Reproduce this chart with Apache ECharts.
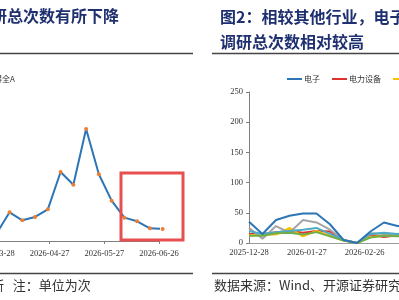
<!DOCTYPE html>
<html>
<head>
<meta charset="utf-8">
<script src="https://cdn.jsdelivr.net/npm/echarts@6/dist/echarts.min.js"></script>
<style>
  html, body { margin: 0; padding: 0; background: #fff; }
  #main { width: 399px; height: 300px; }
</style>
</head>
<body>
<div id="main"></div>
<script>
// left chart: weekly totals (万得全A)
const leftDates = ['2026-03-29', '2026-04-05', '2026-04-12', '2026-04-19', '2026-04-26', '2026-05-03', '2026-05-10',
                   '2026-05-17', '2026-05-24', '2026-05-31', '2026-06-07', '2026-06-14', '2026-06-21', '2026-06-28'];
const leftValues = [80, 289, 208, 242, 319, 695, 567, 1128, 672, 406, 235, 198, 128, 121];
const leftTicks = ['2026-03-28', '2026-06-26'];

// right chart: weekly counts by industry
const rightDates = ['2025-12-28', '2026-01-04', '2026-01-11', '2026-01-18', '2026-01-25', '2026-02-01', '2026-02-08',
                    '2026-02-15', '2026-02-22', '2026-03-01', '2026-03-08', '2026-03-15', '2026-03-22'];
const rightTicks = ['2025-12-28', '2026-06-26'];
const industries = ['电子', '电力设备', '机械设备', '医药生物', '计算机', '基础化工'];
const dianzi    = [35, 15, 38, 45, 49, 49, 31, 5, 0, 19, 34, 28, 30];
const dianli    = [15, 15, 18, 20, 17, 20, 19, 5, 0, 14, 10, 13, 14];
const jixie     = [13, 14, 14, 25, 11, 20, 12, 4, 0, 10, 12, 12, 12];
const yiyao     = [25, 7, 28, 17, 38, 34, 22, 5, 0, 16, 15, 14, 15];
const jisuanji  = [20, 15, 18, 20, 22, 25, 15, 5, 0, 15, 17, 15, 16];
const huagong   = [12, 12, 16, 17, 14, 18, 11, 4, 0, 9, 12, 11, 11];
const rightValues = [dianzi, dianli, jixie, yiyao, jisuanji, huagong];
const rightColors = ['#2e75b6', '#e0312f', '#ffc000', '#a5a5a5', '#4bacc6', '#70ad47'];

const DAY = 86400000;
function ts(s) {
    const p = s.split('-');
    return Date.UTC(+p[0], +p[1] - 1, +p[2]);
}
function pad(n) { return n < 10 ? '0' + n : '' + n; }
function fmt(v) {
    const d = new Date(v);
    return d.getUTCFullYear() + '-' + pad(d.getUTCMonth() + 1) + '-' + pad(d.getUTCDate());
}

const navy = '#1f3070';
const serif = 'Liberation Serif';
const cjk = 'Noto Sans CJK SC';

const rightSeries = industries.map(function (name, i) {
    return {
        name: name,
        type: 'line',
        xAxisIndex: 1,
        yAxisIndex: 1,
        symbol: 'none',
        z: i === 0 ? 5 : 2,
        lineStyle: { width: 2, color: rightColors[i] },
        itemStyle: { color: rightColors[i] },
        data: rightDates.map(function (d, k) { return [ts(d), rightValues[i][k]]; })
    };
});

const option = {
    animation: false,
    title: [
        {
            text: '研总次数有所下降',
            left: -14, top: 3,
            textStyle: { fontFamily: cjk, fontSize: 16, fontWeight: 'bold', color: navy }
        },
        {
            text: '图2：相较其他行业，电子\n调研总次数相对较高',
            left: 215, top: -1,
            textStyle: { fontFamily: cjk, fontSize: 16, fontWeight: 'bold', color: navy, lineHeight: 25 }
        }
    ],
    legend: [
        {
            data: ['万得全A'],
            left: -39, top: 70,
            icon: 'rect', itemWidth: 15, itemHeight: 2,
            textStyle: { fontFamily: cjk, fontSize: 8, color: '#333' }
        },
        {
            data: industries,
            left: 282, top: 70, width: 600,
            icon: 'rect', itemWidth: 15, itemHeight: 2, itemGap: 12,
            textStyle: { fontFamily: cjk, fontSize: 8, color: '#333', padding: [0, 0, 0, -3] }
        }
    ],
    grid: [
        { left: -5, top: 92, width: 164, height: 149, outerBoundsMode: 'none' },
        { left: 249, top: 92, width: 347, height: 151, outerBoundsMode: 'none' }
    ],
    xAxis: [
        {
            type: 'value', gridIndex: 0,
            min: ts(leftTicks[0]), max: ts(leftTicks[1]), interval: 30 * DAY,
            splitLine: { show: false },
            axisLine: { lineStyle: { color: '#808080', width: 1 } },
            axisTick: { length: 3, lineStyle: { color: '#808080' } },
            axisLabel: { formatter: fmt, fontFamily: serif, fontSize: 8.5, color: '#333', margin: 8 }
        },
        {
            type: 'value', gridIndex: 1,
            min: ts(rightTicks[0]), max: ts(rightTicks[1]), interval: 30 * DAY,
            splitLine: { show: false },
            axisLine: { lineStyle: { color: '#999', width: 1 } },
            axisTick: { show: false },
            axisLabel: { formatter: fmt, fontFamily: serif, fontSize: 8.5, color: '#333', margin: 5 }
        }
    ],
    yAxis: [
        { type: 'value', gridIndex: 0, min: 0, max: 1500, show: false },
        {
            type: 'value', gridIndex: 1, min: 0, max: 250, interval: 50,
            splitLine: { show: false },
            axisLine: { show: true, lineStyle: { color: '#808080', width: 1 } },
            axisTick: { show: true, length: 3, lineStyle: { color: '#808080' } },
            axisLabel: { fontFamily: serif, fontSize: 8.5, color: '#333', margin: 6 }
        }
    ],
    series: [
        {
            name: '万得全A',
            type: 'line',
            xAxisIndex: 0,
            yAxisIndex: 0,
            clip: false,
            symbol: 'circle',
            symbolSize: 4,
            lineStyle: { width: 2, color: '#2e75b6' },
            itemStyle: { color: '#ed7d31' },
            data: leftDates.map(function (d, k) { return [ts(d), leftValues[k]]; })
        }
    ].concat(rightSeries),
    graphic: [
        { type: 'line', shape: { x1: 0, y1: 53.5, x2: 193, y2: 53.5 }, style: { stroke: '#444', lineWidth: 1.5 } },
        { type: 'line', shape: { x1: 212, y1: 53.5, x2: 399, y2: 53.5 }, style: { stroke: '#444', lineWidth: 1.5 } },
        { type: 'line', shape: { x1: 0, y1: 273.5, x2: 193, y2: 273.5 }, style: { stroke: '#444', lineWidth: 1.5 } },
        { type: 'line', shape: { x1: 212, y1: 273.5, x2: 399, y2: 273.5 }, style: { stroke: '#444', lineWidth: 1.5 } },
        {
            type: 'rect', z: 10,
            shape: { x: 121, y: 173, width: 62, height: 67 },
            style: { fill: 'none', stroke: '#e84f4f', lineWidth: 3 }
        },
        {
            type: 'text', left: -9, top: 279,
            style: { text: '所   注：单位为次', font: '13px "Noto Sans CJK SC"', fill: '#333' }
        },
        {
            type: 'text', left: 214, top: 279,
            style: { text: '数据来源：Wind、开源证券研究所', font: '13px "Noto Sans CJK SC"', fill: '#333' }
        }
    ]
};

const myChart = echarts.init(document.getElementById('main'));
myChart.setOption(option);
</script>
</body>
</html>
